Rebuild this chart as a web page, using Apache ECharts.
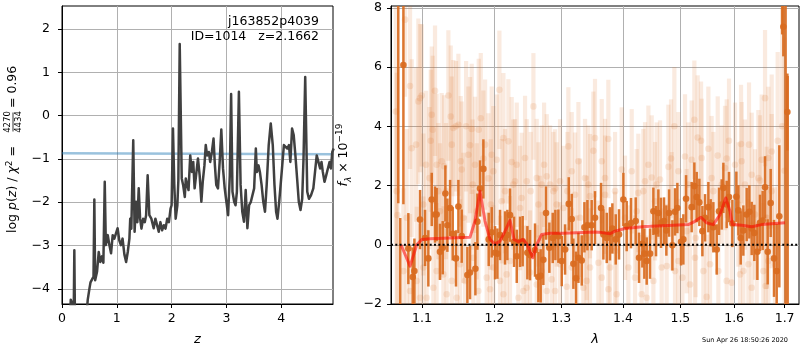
<!DOCTYPE html>
<html>
<head>
<meta charset="utf-8">
<script src="https://cdn.jsdelivr.net/npm/echarts@6/dist/echarts.min.js"></script>
<style>
  html, body { margin: 0; padding: 0; background: #fff; }
  #chart { width: 800px; height: 350px; }
</style>
</head>
<body>
<div id="chart"></div>
<script>
// ---- redshift fit: log p(z) on the redshift grid ----
const zGrid = [
  0.15, 0.16, 0.19, 0.215, 0.225, 0.235, 0.25, 0.44, 0.47, 0.50, 0.52, 0.55, 0.575, 0.59, 0.605,
  0.64, 0.67, 0.70, 0.73, 0.755, 0.78, 0.80, 0.835, 0.865, 0.895, 0.925, 0.955, 0.985, 1.015,
  1.045, 1.075, 1.105, 1.14, 1.17, 1.20, 1.23, 1.245, 1.265, 1.30, 1.325, 1.35, 1.375, 1.40,
  1.425, 1.45, 1.48, 1.51, 1.535, 1.563, 1.594, 1.63, 1.655, 1.673, 1.704, 1.735, 1.765, 1.796,
  1.827, 1.858, 1.889, 1.920, 1.951, 1.981, 2.0, 2.025, 2.049, 2.074, 2.105, 2.123, 2.148, 2.185,
  2.21, 2.241, 2.259, 2.284, 2.309, 2.34, 2.37, 2.395, 2.42, 2.451, 2.481, 2.512, 2.543, 2.568,
  2.599, 2.623, 2.648, 2.679, 2.704, 2.735, 2.765, 2.79, 2.815, 2.846, 2.877, 2.907, 2.938, 2.969,
  3.0, 3.031, 3.062, 3.086, 3.111, 3.142, 3.167, 3.191, 3.228, 3.259, 3.29, 3.321, 3.352, 3.383,
  3.414, 3.444, 3.475, 3.506, 3.537, 3.556, 3.586, 3.611, 3.642, 3.673, 3.704, 3.735, 3.772, 3.809,
  3.846, 3.877, 3.907, 3.932, 3.963, 3.994, 4.019, 4.049, 4.08, 4.111, 4.142, 4.167, 4.198, 4.228,
  4.259, 4.29, 4.321, 4.352, 4.383, 4.407, 4.438, 4.475, 4.506, 4.543, 4.586, 4.617, 4.648, 4.679,
  4.71, 4.735, 4.759, 4.79, 4.821, 4.852, 4.883, 4.907, 4.932, 4.957
];
const logPz = [
  -4.6, -4.25, -4.28, -4.45, -3.11, -4.5, -4.7, -4.7, -4.25, -4.0, -3.85, -3.88, -3.72, -1.94, -3.8,
  -3.6, -3.15, -3.38, -3.25, -3.4, -1.53, -2.99, -2.76, -2.99, -3.18, -2.76, -2.84, -2.72, -2.6,
  -2.88, -2.99, -2.84, -3.22, -3.38, -3.15, -2.84, -2.38, -2.61, -0.57, -2.68, -1.99, -2.46, -1.68,
  -2.38, -2.61, -2.38, -2.46, -2.3, -1.38, -2.3, -2.38, -2.35, -2.6, -2.38, -2.53, -2.68, -2.46,
  -2.65, -2.53, -2.61, -2.38, -2.46, -2.15, -2.07, -0.3, -1.6, -2.38, -2.07, -1.5, 1.65, -1.45,
  -1.6, -1.88, -1.45, -1.6, -1.72, -0.92, -1.3, -1.07, -1.68, -1.72, -0.99, -1.38, -1.99, -1.53,
  -1.15, -0.68, -0.92, -0.84, -1.07, -0.84, -0.53, -1.15, -1.6, -1.68, -1.07, -0.32, -1.22, -1.68,
  -1.99, -2.3, -1.38, 0.5, -1.76, -1.99, -2.07, -1.76, 0.55, -1.6, -2.22, -2.45, -1.72, -2.6,
  -2.07, -2.0, -1.99, -1.68, -0.76, -1.3, -1.15, -1.3, -1.6, -1.99, -2.22, -1.6, -0.68, -0.18,
  -0.68, -1.6, -2.22, -2.38, -1.99, -1.53, -1.15, -0.68, -0.68, -0.76, -0.68, -1.07, -0.3, -0.45,
  -0.92, -1.45, -1.99, -2.18, -1.92, -0.99, 0.89, -1.76, -1.92, -1.84, -1.68, -1.3, -0.92, -0.88,
  -1.22, -1.07, -1.3, -1.53, -1.38, -1.22, -1.07, -1.22, -0.84, -0.76
];
const levelZ = [0, 4.945];
const levelLogP = [-0.87, -0.89];
const zTicks = [0, 1, 2, 3, 4];
const logPTicks = [-4, -3, -2, -1, 0, 1, 2];

// ---- spectrum: binned points (wavelength in micron, flux, 1-sigma) ----
const binWave = [
  1.0691, 1.0716, 1.0757, 1.0821, 1.0878, 1.0900, 1.0974, 1.1040, 1.1084, 1.1129, 1.1173, 1.1195,
  1.1240, 1.1277, 1.1313, 1.1340, 1.1377, 1.1413, 1.1458, 1.1491, 1.1537, 1.1616, 1.1653, 1.1728,
  1.1756, 1.1794, 1.1841, 1.1917, 1.1960, 1.2008, 1.2042, 1.2080, 1.2153, 1.2187, 1.2226, 1.2285,
  1.2325, 1.2374, 1.2413, 1.2483, 1.2523, 1.2598, 1.2649, 1.2684, 1.2725, 1.2766, 1.2817, 1.2869,
  1.2910, 1.2956, 1.3009, 1.3061, 1.3119, 1.3166, 1.3192, 1.3234, 1.3272, 1.3325, 1.3368, 1.3416,
  1.3485, 1.3539, 1.3638, 1.3676, 1.3731, 1.3785, 1.3824, 1.3880, 1.3935, 1.4008, 1.4064, 1.4137,
  1.4217, 1.4274, 1.4331, 1.4365, 1.4406, 1.4464, 1.4522, 1.4568, 1.4609, 1.4655, 1.4709, 1.4750,
  1.4798, 1.4857, 1.4904, 1.4946, 1.5012, 1.5054, 1.5103, 1.5205, 1.5254, 1.5297, 1.5346, 1.5402,
  1.5451, 1.5513, 1.5556, 1.5606, 1.5669, 1.5713, 1.5763, 1.5795, 1.5858, 1.5902, 1.5966, 1.6043,
  1.6082, 1.6127, 1.6178, 1.6243, 1.6295, 1.6341, 1.6393, 1.6453, 1.6505, 1.6558, 1.6605, 1.6658,
  1.6718, 1.6785, 1.6839, 1.6892, 1.6950, 1.6974, 1.7020, 1.7056, 1.7062
];
const binFlux = [
  9.0, -3.5, 6.07, -0.13, -1.09, -0.89, 0.85, 0.23, -0.46, 1.53, 1.02, 1.02,
  -0.24, -0.10, 1.73, 0.66, 1.24, 0.37, -0.46, 1.29, 0.29, -1.02, -0.94, -0.81,
  0.78, 1.90, 2.56, 0.18, 0.42, -0.27, -0.30, 0.33, 0.23, 0.33, 1.00, 0.10,
  -0.39, 0.10, 0.12, -0.27, -0.35, -0.18, -1.09, -1.05, -0.51, 1.07, -0.10, 0.23,
  0.33, 0.29, -0.55, -0.16, 1.38, 0.87, -0.64, -1.13, -0.44, -0.53, 0.59, 0.66,
  0.66, 0.91, 1.24, 0.35, 0.23, 0.37, 0.55, 0.18, 0.35, 1.53, 0.63, 0.73,
  0.80, -0.44, 0.03, -0.30, -0.55, -0.30, 1.13, 0.46, 1.07, 0.74, 0.80, 0.48,
  1.07, -0.02, 1.11, 1.24, 0.10, 0.18, 1.55, 1.27, 1.98, 1.61, 1.43, 0.46,
  0.91, 1.27, 0.74, 0.59, -0.16, 1.13, 1.36, 1.92, 1.36, 1.61, 0.72, 1.62,
  1.16, 0.23, 0.48, 1.02, 1.11, 0.55, 0.40, -0.24, 0.74, 0.82, 1.94, -0.24,
  1.41, -0.46, -0.89, 0.96, 10.5, 7.36, 9.5, 4.48, -5.0
];
const binErr = [
  7.6, 4.4, 4.7, 1.20, 1.00, 1.10, 1.00, 0.95, 0.95, 0.90, 0.95, 0.90,
  0.95, 0.90, 0.95, 0.90, 0.95, 0.90, 0.95, 0.90, 0.90, 0.95, 0.90, 0.90,
  0.95, 0.95, 1.00, 0.90, 0.85, 0.90, 0.85, 0.85, 0.90, 0.85, 0.90, 0.85,
  0.90, 0.85, 0.85, 0.90, 0.85, 0.90, 0.85, 0.90, 0.85, 0.90, 0.85, 0.85,
  0.85, 0.90, 0.85, 0.85, 0.90, 0.85, 0.85, 0.90, 0.85, 0.85, 0.85, 0.85,
  0.85, 0.90, 0.85, 0.85, 0.85, 0.90, 0.85, 0.85, 0.85, 0.90, 0.85, 0.85,
  0.80, 0.85, 0.80, 0.85, 0.80, 0.85, 0.80, 0.85, 0.80, 0.85, 0.80, 0.85,
  0.80, 0.85, 0.80, 0.85, 0.80, 0.85, 0.80, 0.85, 0.80, 0.85, 0.80, 0.85,
  0.80, 0.85, 0.80, 0.85, 0.85, 0.80, 0.85, 0.85, 0.80, 0.85, 0.80, 0.85,
  0.85, 0.90, 0.85, 0.90, 0.90, 0.90, 0.95, 0.95, 0.95, 1.00, 1.05, 1.10,
  1.15, 1.30, 1.60, 2.40, 3.40, 1.00, 12.0, 1.30, 10.7
];

// ---- spectrum: individual exposure pixels ----
const rawWave = [
  1.0660, 1.0680, 1.0778, 1.0843, 1.0865, 1.0922, 1.0952, 1.0974, 1.0996, 1.1116, 1.1129, 1.1142,
  1.1173, 1.1195, 1.1240, 1.1295, 1.1354, 1.1386, 1.1422, 1.1458, 1.1491, 1.1537, 1.1598, 1.1653,
  1.1676, 1.1723, 1.1775, 1.1804, 1.1841, 1.1912, 1.1960, 1.2032, 1.2071, 1.2129, 1.2202, 1.2251,
  1.2300, 1.2398, 1.2473, 1.2574, 1.2649, 1.2700, 1.2777, 1.2905, 1.3035, 1.3113, 1.3218, 1.3378,
  1.3458, 1.3512,
  1.0843, 1.0930, 1.1018, 1.1062, 1.1151, 1.1286, 1.1331, 1.1468, 1.1583, 1.1699, 1.1888, 1.1936,
  1.2080, 1.2129, 1.2226, 1.2349, 1.2423, 1.2523, 1.2624, 1.2777, 1.2853, 1.2982, 1.3087, 1.3245,
  1.3351, 1.3458,
  1.1018, 1.1218, 1.1322, 1.1560, 1.1747, 1.1945, 1.2105, 1.2275, 1.2374, 1.2533, 1.2674, 1.2828,
  1.2930, 1.3098, 1.3298, 1.3405,
  1.0671, 1.0799, 1.1053, 1.1098, 1.1263, 1.1400, 1.1523, 1.1630, 1.1690, 1.1865, 1.1984, 1.2153,
  1.2325, 1.2448, 1.2624, 1.2736, 1.2879, 1.2982, 1.3166, 1.3272, 1.3431,
  1.0757, 1.0974, 1.1195, 1.1400, 1.1514, 1.1770, 1.1984, 1.2177, 1.2473, 1.2700, 1.2905, 1.3166,
  1.3405,
  1.3539, 1.3649, 1.3758, 1.3980, 1.3703, 1.4262, 1.4348, 1.4377, 1.4493, 1.4638, 1.4786, 1.4833,
  1.4892, 1.5084, 1.5205, 1.5254, 1.5315, 1.5377, 1.5513, 1.5688, 1.5826, 1.5858, 1.5902, 1.6133,
  1.6289, 1.6341, 1.6538, 1.6605, 1.6671, 1.6738, 1.6859, 1.6505, 1.6146,
  1.3649, 1.3758, 1.3594, 1.3896, 1.4092, 1.4319, 1.4406, 1.4667, 1.4756, 1.5036, 1.5266, 1.5420,
  1.5482, 1.5700, 1.5953, 1.6114, 1.6178, 1.6276, 1.6440, 1.6618, 1.6671,
  1.5278, 1.4964, 1.4551, 1.4234, 1.3869, 1.4036, 1.4845, 1.5114, 1.5606, 1.6082, 1.6406, 1.6638,
  1.3703, 1.3869, 1.4149, 1.4435, 1.4580, 1.4964, 1.5145, 1.5389, 1.5574, 1.5763, 1.6018, 1.6210,
  1.6472, 1.6738,
  1.3785, 1.4206, 1.4522, 1.4904, 1.5175, 1.5544, 1.5858, 1.6341, 1.6571, 1.6805,
  1.6950, 1.7000
];
const rawFlux = [
  4.5, 1.0, 7.6, 5.36, 3.26, 3.38, 4.84, 4.95, 5.04, 3.51, 4.39, 3.88,
  5.20, 2.70, 1.13, 2.65, 5.04, 4.33, 3.94, 4.00, 4.05, 2.54, 4.00, 3.36,
  3.91, 2.70, 3.88, 4.27, 2.91, 2.24, 3.04, 2.87, 5.23, 3.60, 3.49, 2.79,
  2.14, 1.58, 2.14, 4.67, 1.36, 2.03, 2.31, 1.90, 1.24, 3.32, 1.69, 2.25,
  1.64, 3.17,
  -1.56, -1.22, -0.77, -1.79, -1.45, -1.00, -1.67, -1.79, -1.22, -0.44, -1.11, -1.50,
  -1.22, -1.67, -0.55, -1.79, -1.56, -0.94, -1.34, -1.56, -1.17, -0.66, -1.42, -1.11,
  -1.45, -0.77,
  1.36, 1.81, 1.81, 0.91, 1.13, 1.36, 1.47, 2.03, 1.24, 1.81, 0.23, 2.03,
  1.36, 1.81, 0.91, 0.23,
  1.81, 0.91, 2.70, 2.25, 2.82, 3.38, 2.82, 3.04, 2.03, 3.38, 2.48, 1.81,
  2.70, 2.93, 2.25, 2.70, 1.81, 2.14, 2.48, 2.82, 2.03,
  -0.89, -1.79, -0.89, -1.22, -0.66, -1.56, -0.77, -1.00, -1.45, -0.89, -1.56, -0.77,
  -1.22,
  3.60, 2.82, 3.57, 2.54, 1.69, 1.75, 1.81, 2.14, 2.27, 2.20, 2.63, 2.91,
  4.00, 2.98, 2.87, 4.22, 3.62, 3.51, 3.24, 3.01, 2.59, 2.91, 3.51, 3.40,
  3.38, 2.36, 2.87, 4.95, 2.93, 3.15, 3.51, 2.17, 2.82,
  -1.11, -1.50, -0.61, -1.67, -0.77, -1.67, -1.79, -0.77, -0.72, -1.11, -0.44, -0.89,
  -1.76, -0.89, -1.28, -1.00, -0.89, -0.66, -0.21, -1.39, -0.55,
  0.23, -0.55, 1.47, 1.13, -0.21, 0.91, 1.13, 0.46, 1.81, 1.36, 1.02, 0.91,
  2.25, 1.81, 2.48, 2.70, 2.03, 2.48, 2.03, 2.93, 2.25, 2.03, 2.70, 2.03,
  2.25, 1.81,
  -0.77, -1.11, -1.22, -0.89, -1.34, -0.66, -1.22, -1.45, -0.89, -0.66,
  4.0, 2.5
];
const rawErr = [
  4.5, 5.0, 2.6, 2.8, 3.0, 2.6, 2.8, 2.5, 2.4, 2.4, 2.3, 2.5,
  2.2, 2.4, 2.3, 2.4, 2.2, 2.4, 2.3, 2.2, 2.4, 2.3, 2.2, 2.3,
  2.2, 2.3, 2.4, 2.2, 2.3, 2.2, 2.3, 2.2, 2.0, 2.2, 2.1, 2.2,
  2.1, 2.2, 2.1, 1.8, 2.1, 2.0, 2.1, 2.0, 2.1, 2.0, 2.1, 2.0,
  2.1, 2.0,
  2.6, 2.5, 2.4, 2.3, 2.4, 2.3, 2.2, 2.3, 2.2, 2.3, 2.2, 2.1,
  2.2, 2.1, 2.2, 2.1, 2.2, 2.1, 2.0, 2.1, 2.0, 2.1, 2.0, 2.1,
  2.0, 2.0,
  2.4, 2.3, 2.3, 2.2, 2.3, 2.2, 2.1, 2.2, 2.1, 2.0, 2.1, 2.0,
  2.1, 2.0, 2.0, 2.1,
  4.0, 3.0, 2.5, 2.4, 2.3, 2.3, 2.2, 2.3, 2.2, 2.2, 2.2, 2.1,
  2.1, 2.1, 2.0, 2.1, 2.0, 2.1, 2.0, 2.0, 2.0,
  2.8, 2.5, 2.3, 2.3, 2.2, 2.2, 2.1, 2.1, 2.1, 2.0, 2.0, 2.0,
  2.0,
  2.0, 2.1, 2.0, 2.1, 2.0, 2.0, 2.1, 2.0, 2.1, 2.0, 2.1, 2.0,
  2.0, 2.1, 2.0, 2.0, 2.1, 2.0, 2.1, 2.0, 2.1, 2.0, 2.1, 2.0,
  2.1, 2.1, 2.2, 2.3, 2.4, 2.6, 3.0, 2.2, 2.0,
  2.1, 2.0, 2.1, 2.0, 2.1, 2.0, 2.1, 2.0, 2.1, 2.0, 2.1, 2.0,
  2.1, 2.0, 2.1, 2.0, 2.1, 2.2, 2.2, 2.4, 2.5,
  2.0, 2.1, 2.0, 2.1, 2.0, 2.1, 2.0, 2.1, 2.0, 2.1, 2.2, 2.4,
  2.0, 2.0, 2.1, 2.0, 2.1, 2.0, 2.1, 2.0, 2.1, 2.0, 2.1, 2.2,
  2.3, 2.6,
  2.0, 2.1, 2.0, 2.1, 2.0, 2.1, 2.0, 2.2, 2.3, 2.6,
  4.0, 4.5
];

// ---- best-fit template ----
const modelWave = [
  1.0726, 1.0843, 1.0931, 1.0997, 1.1106, 1.1652, 1.1722, 1.1793, 1.1864, 1.1935, 1.2007, 1.2080,
  1.2153, 1.2226, 1.2285, 1.2348, 1.2418, 1.2482, 1.2563, 1.2624, 1.2700, 1.2827, 1.3033, 1.3346,
  1.3539, 1.3648, 1.3785, 1.3868, 1.4036, 1.4377, 1.4785, 1.5144, 1.5265, 1.5376, 1.5482, 1.5605,
  1.5732, 1.5840, 1.5922, 1.5965, 1.6147, 1.6342, 1.6539, 1.6739, 1.7008
];
const modelFlux = [
  0.0, -0.72, 0.0, 0.18, 0.20, 0.25, 0.80, 1.81, 0.80, 0.18, 0.03, 0.12,
  0.46, 0.82, 0.18, 0.10, 0.18, 0.0, -0.44, 0.0, 0.35, 0.39, 0.39, 0.41,
  0.43, 0.41, 0.37, 0.46, 0.55, 0.62, 0.65, 0.68, 0.79, 0.93, 0.74, 0.68,
  1.02, 1.58, 1.13, 0.68, 0.66, 0.61, 0.68, 0.71, 0.74
];
const waveTicks = [1.1, 1.2, 1.3, 1.4, 1.5, 1.6, 1.7];
const fluxTicks = [-2, 0, 2, 4, 6, 8];
const waveRange = [1.0598, 1.7296];

// ---- drawing ----
const FONT = 'DejaVu Sans';
const ORANGE = '#d96b1f';
const GRID_GRAY = '#b0b0b0';
const minus = v => String(v).replace('-', '\u2212');

function valueAxis(gridIndex, min, max, ticks, formatter, margin) {
  return {
    type: 'value', gridIndex, min, max,
    axisLine: { show: true, onZero: false, lineStyle: { color: '#000', width: 1 } },
    axisTick: { show: true, inside: false, length: 4, customValues: ticks, lineStyle: { color: '#000', width: 1 } },
    axisLabel: { show: true, customValues: ticks, formatter, margin, color: '#000', fontFamily: FONT, fontSize: 12.5 },
    splitLine: { show: true, lineStyle: { color: GRID_GRAY, width: 1 } }
  };
}

function errorBars(color, barWidth, radius, opacity) {
  return function (params, api) {
    const x = api.value(0), y = api.value(1), e = api.value(2);
    const hi = api.coord([x, y + e]);
    const lo = api.coord([x, y - e]);
    const c = api.coord([x, y]);
    return {
      type: 'group',
      children: [
        { type: 'line', shape: { x1: hi[0], y1: hi[1], x2: lo[0], y2: lo[1] },
          style: { stroke: color, lineWidth: barWidth, opacity } },
        { type: 'circle', shape: { cx: c[0], cy: c[1], r: radius },
          style: { fill: color, opacity } }
      ]
    };
  };
}

const lnWave = w => Math.log(w);
const rawData = rawWave.map((w, i) => [lnWave(w), rawFlux[i], rawErr[i]]);
const binData = binWave.map((w, i) => [lnWave(w), binFlux[i], binErr[i]]);
const modelData = modelWave.map((w, i) => [lnWave(w), modelFlux[i]]);

const chart = echarts.init(document.getElementById('chart'), null, { renderer: 'canvas' });

chart.setOption({
  animation: false,
  backgroundColor: '#fff',
  grid: [
    { left: 62, right: 467, top: 6, bottom: 46, show: true, borderColor: '#000', borderWidth: 1, outerBoundsMode: 'none' },
    { left: 391, right: 1, top: 6, bottom: 46, show: true, borderColor: '#000', borderWidth: 1, outerBoundsMode: 'none' }
  ],
  xAxis: [
    valueAxis(0, 0, 4.945, zTicks, v => minus(v), 8),
    valueAxis(1, lnWave(waveRange[0]), lnWave(waveRange[1]), waveTicks.map(lnWave),
      v => Math.exp(v).toFixed(1), 8)
  ],
  yAxis: [
    valueAxis(0, -4.35, 2.53, logPTicks, v => minus(v), 12),
    valueAxis(1, -2, 8.06, fluxTicks, v => minus(v), 9)
  ],
  series: [
    {
      type: 'line', xAxisIndex: 0, yAxisIndex: 0, showSymbol: false, symbol: 'none',
      data: levelZ.map((z, i) => [z, levelLogP[i]]),
      lineStyle: { color: 'rgba(31,119,180,0.45)', width: 2.5 }, z: 3
    },
    {
      type: 'line', xAxisIndex: 0, yAxisIndex: 0, showSymbol: false, symbol: 'none',
      data: zGrid.map((z, i) => [z, logPz[i]]),
      lineStyle: { color: '#404040', width: 2.5, join: 'round' }, z: 4
    },
    {
      type: 'custom', xAxisIndex: 1, yAxisIndex: 1, clip: true,
      encode: { x: 0, y: 1 },
      renderItem: errorBars(ORANGE, 4.2, 3.3, 0.14),
      data: rawData, z: 2
    },
    {
      type: 'custom', xAxisIndex: 1, yAxisIndex: 1, clip: true,
      encode: { x: 0, y: 1 },
      renderItem: errorBars(ORANGE, 2.5, 3.3, 0.92),
      data: binData, z: 3
    },
    {
      type: 'line', xAxisIndex: 1, yAxisIndex: 1, showSymbol: false, symbol: 'none',
      data: modelData,
      lineStyle: { color: 'rgba(255,0,0,0.55)', width: 3, join: 'round' }, z: 4
    },
    {
      type: 'line', xAxisIndex: 1, yAxisIndex: 1, showSymbol: false, symbol: 'none',
      data: [[lnWave(waveRange[0]), 0], [lnWave(waveRange[1]), 0]],
      lineStyle: { color: '#000', width: 2, type: [2, 2.3] }, z: 5
    }
  ],
  graphic: { elements: [
    { type: 'text', x: 319, y: 22, z: 10,
      style: { text: 'j163852p4039', align: 'right', verticalAlign: 'middle', fill: '#000', fontFamily: FONT, fontSize: 12.5 } },
    { type: 'text', x: 319, y: 37, z: 10,
      style: { text: 'ID=1014   z=2.1662', align: 'right', verticalAlign: 'middle', fill: '#000', fontFamily: FONT, fontSize: 12.5 } },
    { type: 'text', x: 197.5, y: 340,
      style: { text: 'z', align: 'center', verticalAlign: 'middle', fill: '#000', fontFamily: FONT, fontSize: 13, fontStyle: 'italic' } },
    { type: 'text', x: 595, y: 340,
      style: { text: '\u03bb', align: 'center', verticalAlign: 'middle', fill: '#000', fontFamily: FONT, fontSize: 13, fontStyle: 'italic' } },
    { type: 'text', x: 788, y: 340,
      style: { text: 'Sun Apr 26 18:50:26 2020', align: 'right', verticalAlign: 'middle', fill: '#000', fontFamily: FONT, fontSize: 6.5 } },
    // left axis title: log p(z) / chi^2 = 4270/4434 = 0.96
    { type: 'group', x: 13, y: 155, rotation: Math.PI / 2, children: [
      { type: 'text', x: 9, y: 0,
        style: { text: 'log {i|p}({i|z}) / {i|\u03c7}{s|2} =', align: 'right', verticalAlign: 'middle', fill: '#000',
          fontFamily: FONT, fontSize: 12.5, lineHeight: 16,
          rich: { i: { fontStyle: 'italic', fontFamily: FONT, fontSize: 12.5, lineHeight: 16 },
                  s: { fontFamily: FONT, fontSize: 9, lineHeight: 16, verticalAlign: 'top' } } } },
      { type: 'text', x: 33, y: -5,
        style: { text: '4270', align: 'center', verticalAlign: 'middle', fill: '#000', fontFamily: FONT, fontSize: 8.5 } },
      { type: 'line', shape: { x1: 23.5, y1: 0, x2: 42.5, y2: 0 }, style: { stroke: '#000', lineWidth: 0.8 } },
      { type: 'text', x: 33, y: 5.5,
        style: { text: '4434', align: 'center', verticalAlign: 'middle', fill: '#000', fontFamily: FONT, fontSize: 8.5 } },
      { type: 'text', x: 47, y: 0,
        style: { text: '= 0.96', align: 'left', verticalAlign: 'middle', fill: '#000', fontFamily: FONT, fontSize: 12.5 } }
    ] },
    // right axis title: f_lambda x 10^-19
    { type: 'text', x: 344, y: 155, rotation: Math.PI / 2,
      style: { text: '{i|f}{b|\u03bb} \u00d7 10{s|\u221219}', align: 'center', verticalAlign: 'middle', fill: '#000',
        fontFamily: FONT, fontSize: 12.5, lineHeight: 18,
        rich: { i: { fontStyle: 'italic', fontFamily: FONT, fontSize: 12.5, lineHeight: 18 },
                b: { fontStyle: 'italic', fontFamily: FONT, fontSize: 9, lineHeight: 18, verticalAlign: 'bottom' },
                s: { fontFamily: FONT, fontSize: 9, lineHeight: 18, verticalAlign: 'top' } } } }
  ] }
});
</script>
</body>
</html>
